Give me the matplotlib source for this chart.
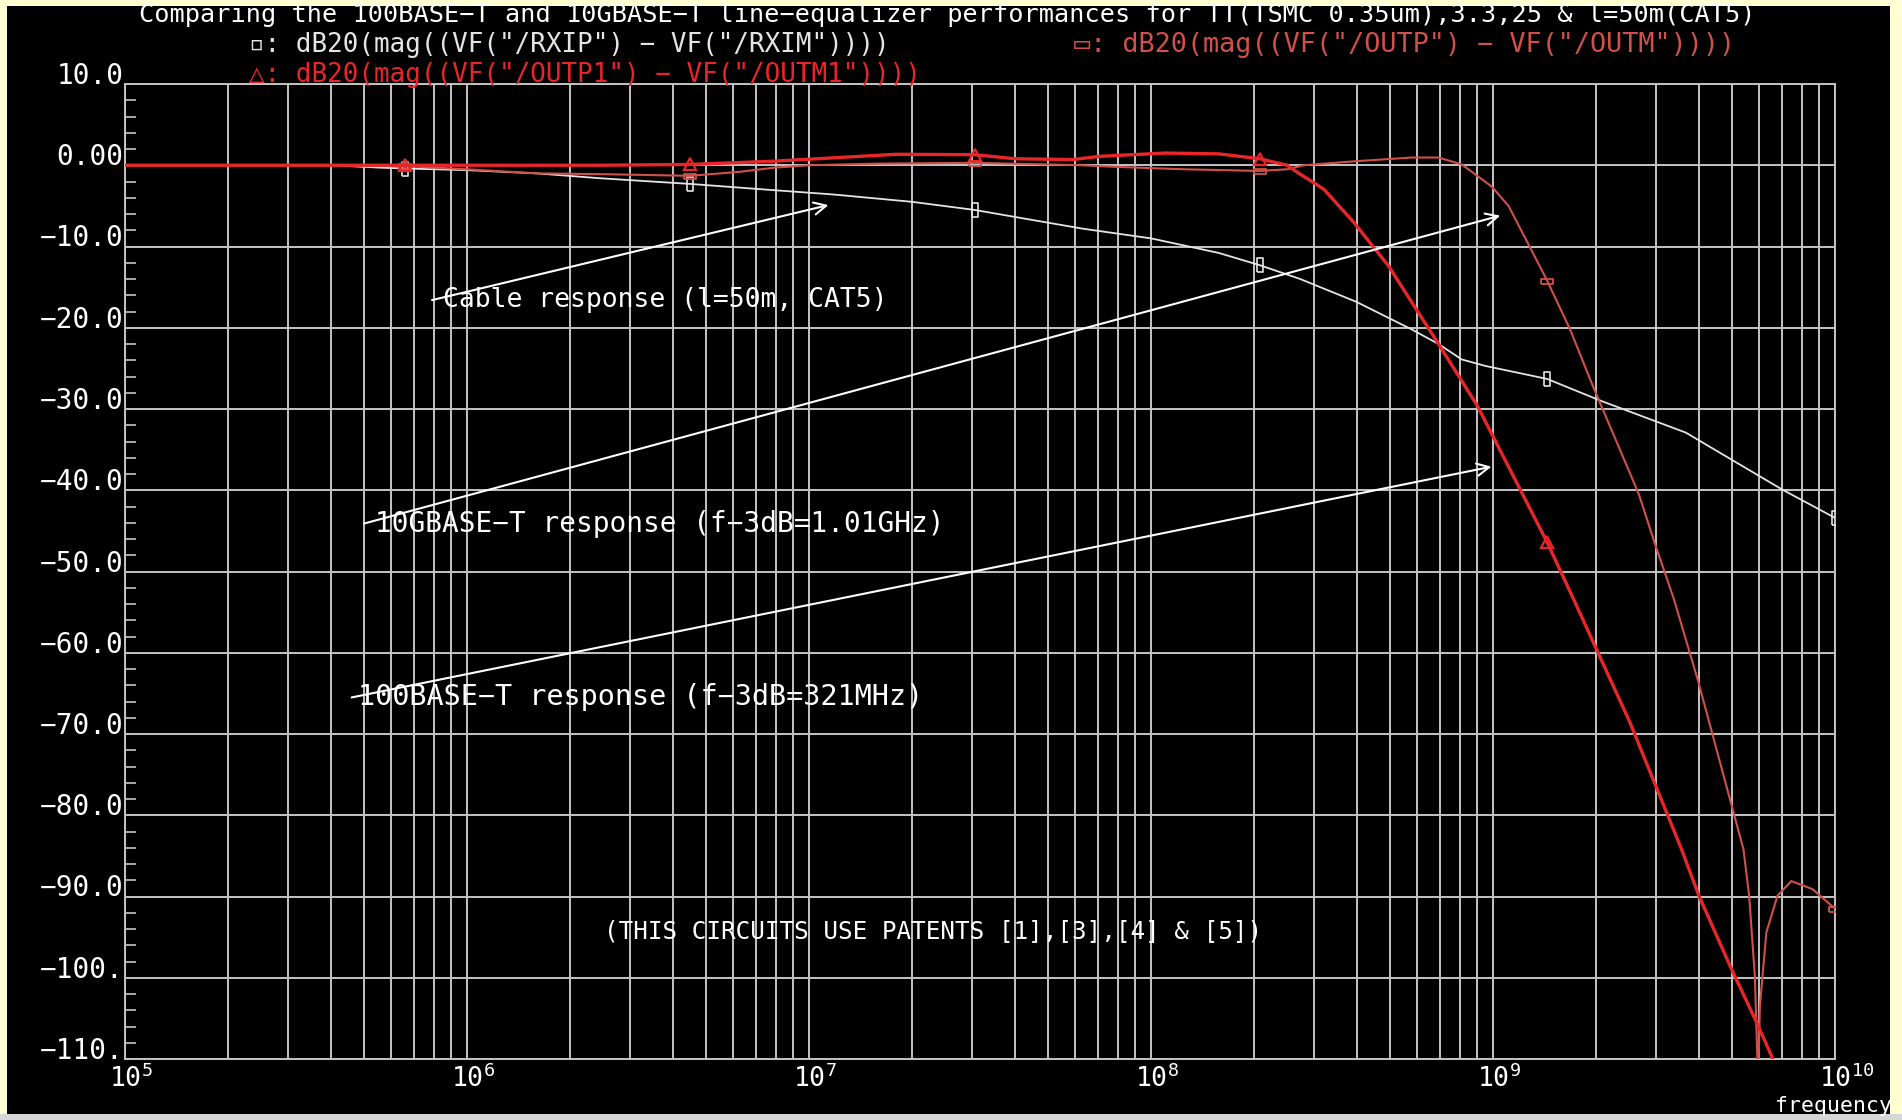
import numpy as np
import matplotlib
matplotlib.use("Agg")
import matplotlib.pyplot as plt
from matplotlib.patches import Rectangle
from matplotlib.transforms import ScaledTranslation
from matplotlib.ticker import FixedLocator, MultipleLocator, LogLocator, NullFormatter

plt.rcParams['font.family'] = ['DejaVu Sans Mono', 'DejaVu Sans']
plt.rcParams['mathtext.fontset'] = 'custom'
plt.rcParams['mathtext.rm'] = 'DejaVu Sans Mono'
plt.rcParams['mathtext.it'] = 'DejaVu Sans Mono'

# cable response  dB20(mag(VF("/RXIP") - VF("/RXIM")))  -> white
cable_freq = [1.0e5, 4.0e5, 5.6e5, 6.6e5, 1.0e6, 1.6e6, 2.45e6, 4.5e6, 7.5e6, 1.18e7, 2.0e7,
              3.05e7, 4.05e7, 6.3e7, 1.0e8, 1.58e8, 2.08e8, 2.73e8, 3.98e8, 5.78e8, 6.93e8,
              8.1e8, 9.5e8, 1.44e9, 2.07e9, 3.66e9, 7.0e9, 1.0e10]
cable_db = [0.0, 0.0, -0.3, -0.4, -0.6, -1.0, -1.6, -2.3, -3.0, -3.6, -4.5,
            -5.5, -6.4, -7.8, -9.0, -10.8, -12.3, -14.0, -16.8, -20.2, -22.0,
            -23.9, -24.7, -26.3, -29.0, -32.9, -39.9, -43.4]

# 100BASE-T equalizer  (OUTP1 - OUTM1) -> bright red, triangles
eq100_freq = [1.0e5, 6.6e5, 2.45e6, 4.5e6, 7.9e6, 1.8e7, 3.05e7, 4.0e7, 5.9e7, 7.1e7,
              1.1e8, 1.58e8, 2.08e8, 2.5e8, 2.73e8, 2.98e8, 3.21e8, 3.93e8, 4.95e8, 6.93e8,
              9.0e8, 1.44e9, 1.72e9, 2.51e9, 3.56e9, 4.0e9, 4.99e9, 5.9e9, 6.55e9, 7.1e9]
eq100_db = [0.0, 0.0, 0.0, 0.1, 0.5, 1.35, 1.3, 0.8, 0.7, 1.1,
            1.5, 1.4, 0.8, 0.0, -1.1, -2.1, -3.0, -7.1, -12.4, -22.0,
            -29.6, -46.4, -53.4, -68.5, -84.2, -89.9, -99.0, -105.5, -109.8, -113.0]

# 10GBASE-T equalizer  (OUTP - OUTM) -> dark red, flat boxes
eq10g_freq = [1.0e5, 5.0e5, 6.6e5, 1.0e6, 1.6e6, 2.5e6, 4.5e6, 6.3e6, 7.9e6, 1.0e7,
              1.6e7, 3.05e7, 6.3e7, 7.9e7, 1.26e8, 2.08e8, 2.5e8, 2.8e8, 3.98e8, 5.78e8,
              6.93e8, 8.1e8, 9.9e8, 1.11e9, 1.29e9, 1.44e9, 1.68e9, 1.96e9, 2.35e9, 2.67e9,
              2.97e9, 3.38e9, 3.98e9, 4.68e9, 5.4e9, 5.61e9, 5.83e9, 5.96e9, 6.03e9, 6.3e9,
              6.79e9, 7.45e9, 8.6e9, 1.0e10]
eq10g_db = [0.0, 0.0, -0.1, -0.5, -1.0, -1.1, -1.3, -0.8, -0.3, 0.0,
            0.2, 0.3, 0.0, -0.2, -0.5, -0.7, -0.5, 0.0, 0.5, 0.95,
            0.95, 0.1, -2.6, -5.0, -10.3, -14.2, -20.2, -27.2, -35.0, -40.5,
            -46.5, -53.4, -63.5, -74.5, -84.2, -89.9, -99.8, -113.0, -103.5, -94.4,
            -89.9, -88.1, -89.1, -91.5]

marker_freq = [6.6e5, 4.5e6, 3.05e7, 2.08e8, 1.44e9, 1.0e10]

y_ticks = [10, 0, -10, -20, -30, -40, -50, -60, -70, -80, -90, -100, -110]
y_labels = ["10.0", "0.00", "−10.0", "−20.0", "−30.0", "−40.0", "−50.0", "−60.0",
            "−70.0", "−80.0", "−90.0", "−100.", "−110."]
x_ticks = [1e5, 1e6, 1e7, 1e8, 1e9, 1e10]
x_labels = [r"$10^{5}$", r"$10^{6}$", r"$10^{7}$", r"$10^{8}$", r"$10^{9}$", r"$10^{10}$"]

title = ("Comparing the 100BASE−T and 10GBASE−T line−equalizer performances "
         "for TT(TSMC 0.35um),3.3,25 & l=50m(CAT5)")
leg_cable = '▫: dB20(mag((VF("/RXIP") − VF("/RXIM"))))'
leg_eq100 = '△: dB20(mag((VF("/OUTP1") − VF("/OUTM1"))))'
leg_eq10g = '▭: dB20(mag((VF("/OUTP") − VF("/OUTM"))))'

WHITE = "#E4E4E4"
RED = "#E8262A"
DARKRED = "#D0504A"
GRID = "#C4C4C4"

W, H = 1902, 1120
fig = plt.figure(figsize=(W / 100, H / 100), dpi=100)
fig.patch.set_facecolor("#FFFFD2")
fig.add_artist(Rectangle((7 / W, 6 / H), (W - 19) / W, (H - 12) / H,
                         transform=fig.transFigure, facecolor="black", edgecolor="none", zorder=-5))
fig.add_artist(Rectangle((0, 0), 1, 6 / H, transform=fig.transFigure,
                         facecolor="#D6D6D6", edgecolor="none", zorder=-4))

L, R, T, B = 125, 1835, 84, 1059
ax = fig.add_axes([L / W, 1 - B / H, (R - L) / W, (B - T) / H])
ax.set_facecolor("black")
ax.set_xscale("log")
ax.set_xlim(1e5, 1e10)
ax.set_ylim(-110, 10)

# grid and ticks
ax.xaxis.set_major_locator(FixedLocator(x_ticks))
ax.xaxis.set_minor_locator(LogLocator(base=10, subs=np.arange(2, 10)))
ax.xaxis.set_minor_formatter(NullFormatter())
ax.set_xticklabels(x_labels)
ax.yaxis.set_major_locator(FixedLocator(y_ticks))
ax.yaxis.set_minor_locator(MultipleLocator(2))
ax.set_yticklabels(y_labels)
ax.grid(which="both", axis="x", color=GRID, lw=1.4)
ax.grid(which="major", axis="y", color=GRID, lw=1.4)
ax.set_axisbelow(True)
for s in ax.spines.values():
    s.set_color(GRID)
    s.set_linewidth(1.4)
ax.tick_params(axis="x", which="both", length=0, colors="white", labelsize=19, pad=4)
ax.tick_params(axis="y", which="major", length=0, colors="white", labelsize=20, pad=1)
ax.tick_params(axis="y", which="minor", direction="in", length=8, width=1.2, color=GRID)
for lab in ax.get_yticklabels():
    lab.set_va("baseline")
# the "10" sits on the grid line, exponent hangs to the right
shift = ScaledTranslation(-0.16, 0, fig.dpi_scale_trans)
for lab in ax.get_xticklabels():
    lab.set_ha("left")
    lab.set_transform(lab.get_transform() + shift)

def marks(freq):
    return [i for i, f in enumerate(freq) if any(np.isclose(f, m) for m in marker_freq)]

box_tall = [(-0.4, -1), (0.4, -1), (0.4, 1), (-0.4, 1), (-0.4, -1)]
box_flat = [(-1, -0.4), (1, -0.4), (1, 0.4), (-1, 0.4), (-1, -0.4)]

ax.plot(cable_freq, cable_db, color=WHITE, lw=1.3, marker=box_tall, markersize=10,
        mfc="none", mec=WHITE, mew=1.2, markevery=marks(cable_freq), zorder=3)
ax.plot(eq10g_freq, eq10g_db, color=DARKRED, lw=1.5, marker=box_flat, markersize=9,
        mfc="none", mec=DARKRED, mew=1.3, markevery=marks(eq10g_freq), zorder=4)
ax.plot(eq100_freq, eq100_db, color=RED, lw=2.4, marker="^", markersize=8,
        mfc="none", mec=RED, mew=1.6, markevery=marks(eq100_freq), zorder=5)

# annotations
arrow = dict(arrowstyle="->", color="white", lw=1.5, mutation_scale=22, shrinkA=0, shrinkB=0)
ax.annotate("", xy=(1.14e7, -4.9), xytext=(7.9e5, -16.6), arrowprops=arrow, zorder=6)
ax.annotate("", xy=(1.05e9, -6.2), xytext=(5.0e5, -44.1), arrowprops=arrow, zorder=6)
ax.annotate("", xy=(9.9e8, -37.1), xytext=(4.6e5, -65.5), arrowprops=arrow, zorder=6)
ax.text(8.5e5, -16.6, "Cable response (l=50m, CAT5)", color="white", fontsize=19,
        ha="left", va="center", zorder=7)
ax.text(5.4e5, -44.1, "10GBASE−T response (f−3dB=1.01GHz)", color="white", fontsize=20,
        ha="left", va="center", zorder=7)
ax.text(4.8e5, -65.5, "100BASE−T response (f−3dB=321MHz)", color="white", fontsize=20.5,
        ha="left", va="center", zorder=7)
ax.text(2.3e7, -94.3, "(THIS CIRCUITS USE PATENTS [1],[3],[4] & [5])", color="white",
        fontsize=17.5, ha="center", va="center", zorder=7)

ax.set_xlabel("frequency", loc="right", color="white", fontsize=15.5)
ax.xaxis.set_label_coords((1892 - L) / (R - L), -(1106 - B) / (B - T))
ax.xaxis.label.set_va("center")

fig.text(947 / W, 1 - 15 / H, title, color="white", fontsize=18.2, ha="center", va="center")
fig.text(249 / W, 1 - 45 / H, leg_cable, color=WHITE, fontsize=18.6, ha="left", va="center")
fig.text(249 / W, 1 - 75.5 / H, leg_eq100, color=RED, fontsize=18.6, ha="left", va="center")
fig.text(1074 / W, 1 - 45 / H, leg_eq10g, color=DARKRED, fontsize=19.4, ha="left", va="center")

fig.savefig("out.png", dpi=100, facecolor=fig.get_facecolor())
